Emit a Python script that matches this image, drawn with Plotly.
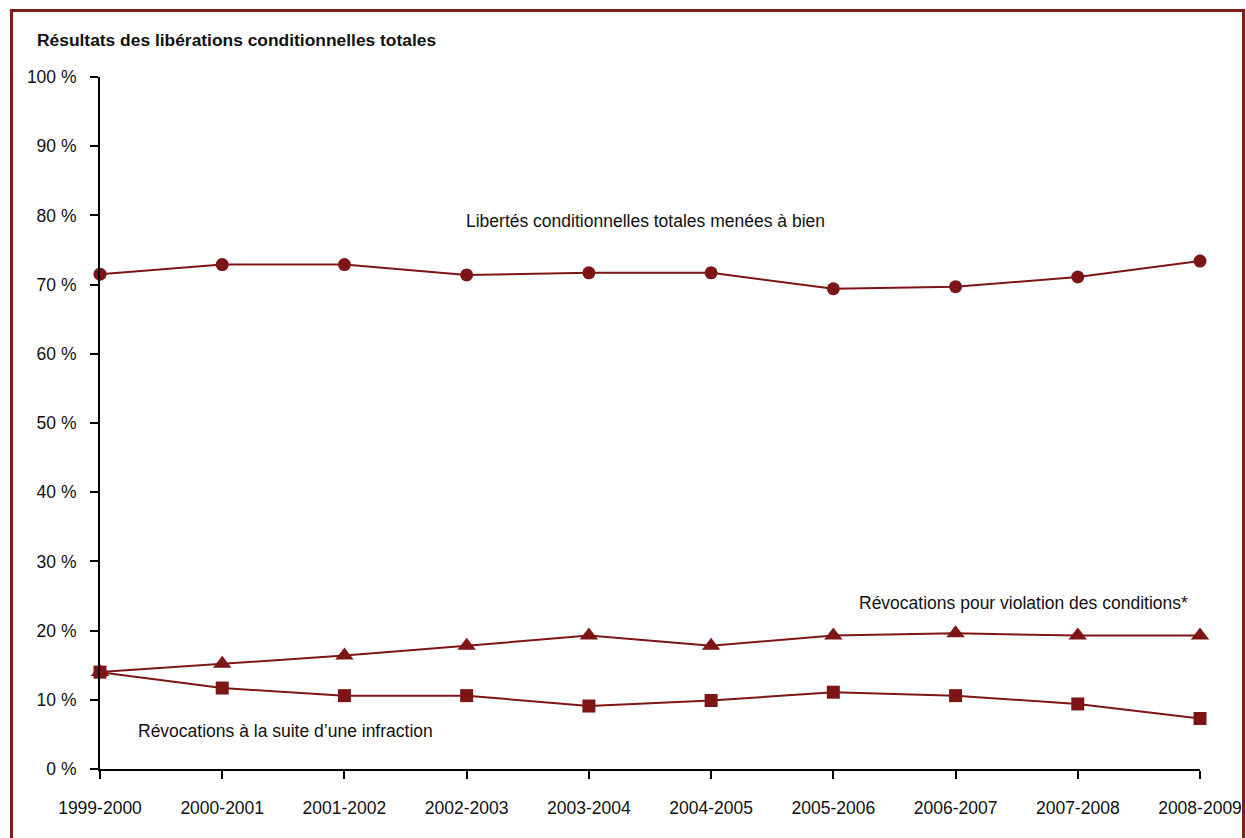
import plotly.graph_objects as go

years = ["1999-2000", "2000-2001", "2001-2002", "2002-2003", "2003-2004",
         "2004-2005", "2005-2006", "2006-2007", "2007-2008", "2008-2009"]
reussies = [71.5, 72.9, 72.9, 71.4, 71.7, 71.7, 69.4, 69.7, 71.1, 73.4]
violation = [14.0, 15.2, 16.4, 17.8, 19.3, 17.8, 19.3, 19.6, 19.3, 19.3]
infraction = [14.0, 11.7, 10.6, 10.6, 9.1, 9.9, 11.1, 10.6, 9.4, 7.3]

y_ticks = list(range(0, 101, 10))
y_labels = [f"{v} %" for v in y_ticks]

COL = "#7d1517"
FONT = "Liberation Sans, Arial, sans-serif"

fig = go.Figure()
common = dict(x=list(range(len(years))), mode="lines+markers",
              line=dict(color=COL, width=2), cliponaxis=False, showlegend=False)
fig.add_trace(go.Scatter(y=reussies, marker=dict(symbol="circle", size=13, color=COL), **common))
fig.add_trace(go.Scatter(y=violation, marker=dict(symbol="triangle-up", size=16, color=COL), **common))
fig.add_trace(go.Scatter(y=infraction, marker=dict(symbol="square", size=13, color=COL), **common))

fig.update_layout(
    width=1254, height=838,
    margin=dict(l=100, r=47, t=77, b=69),
    paper_bgcolor="white", plot_bgcolor="white",
    font=dict(family=FONT, size=17.5, color="#111111"),
    xaxis=dict(range=[0, 9], tickmode="array", tickvals=list(range(len(years))),
               ticktext=years, showgrid=False, zeroline=False, showline=True,
               linecolor="black", linewidth=2, ticks="outside", ticklen=8,
               tickwidth=2, tickcolor="black", ticklabelstandoff=14),
    yaxis=dict(range=[0, 100], tickmode="array", tickvals=y_ticks, ticktext=y_labels,
               showgrid=False, zeroline=False, showline=True,
               linecolor="black", linewidth=2, ticks="outside", ticklen=8,
               tickwidth=2, tickcolor="black", ticklabelstandoff=10),
)

def px_x(px):
    return (px - 99) / 1100

def px_y(py):
    return (769 - py) / 692

fig.add_shape(type="rect", xref="paper", yref="paper",
              x0=px_x(10.5), x1=px_x(1242.5), y0=px_y(870), y1=px_y(10.5),
              line=dict(color="#7f1d1d", width=3), layer="below")

fig.add_annotation(text="<b>Résultats des libérations conditionnelles totales</b>",
                   xref="paper", yref="paper", x=px_x(34), y=px_y(40),
                   xanchor="left", yanchor="middle", showarrow=False,
                   font=dict(size=17.4, family=FONT, color="#111111"))

labels = [
    ("Libertés conditionnelles totales menées à bien", 463, 221),
    ("Révocations pour violation des conditions*", 856, 603),
    ("Révocations à la suite d’une infraction", 135, 731),
]
for t, x, y in labels:
    fig.add_annotation(text=t, xref="paper", yref="paper", x=px_x(x), y=px_y(y),
                       xanchor="left", yanchor="middle", showarrow=False,
                       font=dict(size=17.5, family=FONT, color="#111111"))

fig.write_html("out.html", config={"displayModeBar": False},
               post_script="document.body.style.margin='0';document.body.style.overflow='hidden';")
